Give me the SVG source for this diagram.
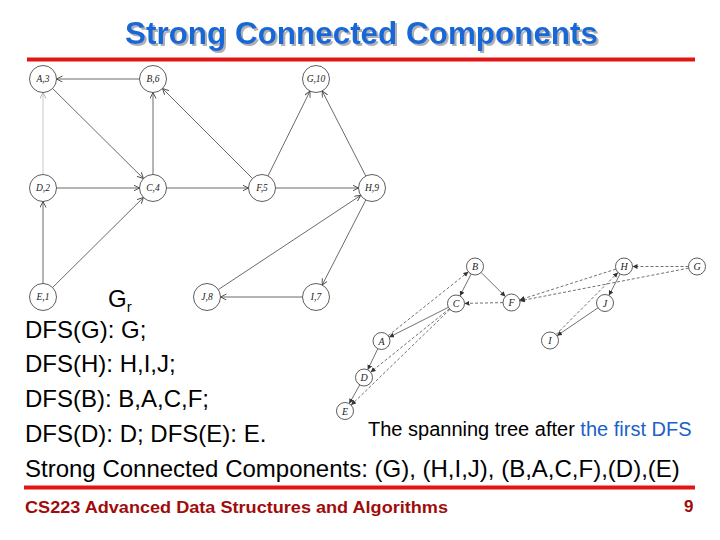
<svg xmlns="http://www.w3.org/2000/svg" width="720" height="540" viewBox="0 0 720 540">
<style>
.bg{fill:#ffffff}
.node circle{fill:#ffffff;stroke:#333;stroke-width:0.8}
.nl{font-family:"Liberation Serif",serif;font-style:italic;font-size:9.5px;fill:#222;text-anchor:middle}
.nr{font-family:"Liberation Serif",serif;font-style:italic;font-size:10px;fill:#222;text-anchor:middle}
.e{stroke:#444;stroke-width:0.8;fill:none;marker-end:url(#ah)}
.eg{stroke:#c8c8c8;stroke-width:1;fill:none;marker-end:url(#ahg)}
.s{stroke:#333;stroke-width:0.7;fill:none;marker-end:url(#ah2)}
.d{stroke:#333;stroke-width:0.7;fill:none;stroke-dasharray:3 2;marker-end:url(#ah2)}
.t{font-family:"Liberation Sans",Arial,sans-serif;font-size:24px;fill:#000}
.title{font-family:"Liberation Sans",Arial,sans-serif;font-weight:bold;font-size:31px}
.foot{font-family:"Liberation Sans",Arial,sans-serif;font-weight:bold;font-size:17px;fill:#a00c0c}
</style>
<defs>
<filter id="sh" x="-5%" y="-20%" width="110%" height="150%">
<feDropShadow dx="2" dy="2" stdDeviation="0.4" flood-color="#b0b0b0" flood-opacity="1"/>
</filter>
<marker id="ah" markerWidth="7" markerHeight="7" refX="6" refY="3" orient="auto" markerUnits="userSpaceOnUse">
<path d="M0,0 L6,3 L0,6" fill="none" stroke="#444" stroke-width="0.9"/>
</marker>
<marker id="ahg" markerWidth="7" markerHeight="7" refX="6" refY="3" orient="auto" markerUnits="userSpaceOnUse">
<path d="M0,0 L6,3 L0,6" fill="none" stroke="#aaa" stroke-width="0.9"/>
</marker>
<marker id="ah2" markerWidth="6" markerHeight="6" refX="5" refY="2.5" orient="auto" markerUnits="userSpaceOnUse">
<path d="M0,0 L5,2.5 L0,5 Z" fill="#333"/>
</marker>
</defs>
<rect class="bg" x="0" y="0" width="720" height="540"/>

<text class="title" x="125" y="44" fill="#1768d6" filter="url(#sh)" textLength="473" lengthAdjust="spacingAndGlyphs">Strong Connected Components</text>
<line x1="27" y1="59.5" x2="695" y2="59.5" stroke="#e31414" stroke-width="4"/>

<g id="connectors-left">
<line class="e" x1="139.5" y1="79" x2="56.5" y2="79"/>
<line class="e" x1="52.6" y1="88.5" x2="143.4" y2="178.5"/>
<line class="eg" x1="43" y1="174.5" x2="43" y2="92.5"/>
<line class="e" x1="56.5" y1="188" x2="139.5" y2="188"/>
<line class="e" x1="43" y1="283.5" x2="43" y2="201.5"/>
<line class="e" x1="52.6" y1="287.5" x2="143.4" y2="197.5"/>
<line class="e" x1="153" y1="174.5" x2="153" y2="92.5"/>
<line class="e" x1="166.5" y1="188" x2="248.5" y2="188"/>
<line class="e" x1="252.5" y1="178.5" x2="162.5" y2="88.5"/>
<line class="e" x1="268" y1="175.9" x2="310" y2="91.1"/>
<line class="e" x1="275.5" y1="188" x2="358.5" y2="188"/>
<line class="e" x1="365.8" y1="176" x2="322.2" y2="91"/>
<line class="e" x1="365.8" y1="200" x2="322.2" y2="285"/>
<line class="e" x1="302.5" y1="297" x2="220.5" y2="297"/>
<line class="e" x1="218.3" y1="289.6" x2="360.7" y2="195.4"/>
</g>

<g id="nA3" class="node"><circle cx="43" cy="79" r="13.5"/><text class="nl" x="43" y="82">A,3</text></g>
<g id="nB6" class="node"><circle cx="153" cy="79" r="13.5"/><text class="nl" x="153" y="82">B,6</text></g>
<g id="nG10" class="node"><circle cx="316" cy="79" r="13.5"/><text class="nl" x="316" y="82">G,10</text></g>
<g id="nD2" class="node"><circle cx="43" cy="188" r="13.5"/><text class="nl" x="43" y="191">D,2</text></g>
<g id="nC4" class="node"><circle cx="153" cy="188" r="13.5"/><text class="nl" x="153" y="191">C,4</text></g>
<g id="nF5" class="node"><circle cx="262" cy="188" r="13.5"/><text class="nl" x="262" y="191">F,5</text></g>
<g id="nH9" class="node"><circle cx="372" cy="188" r="13.5"/><text class="nl" x="372" y="191">H,9</text></g>
<g id="nE1" class="node"><circle cx="43" cy="297" r="13.5"/><text class="nl" x="43" y="300">E,1</text></g>
<g id="nJ8" class="node"><circle cx="207" cy="297" r="13.5"/><text class="nl" x="207" y="300">J,8</text></g>
<g id="nI7" class="node"><circle cx="316" cy="297" r="13.5"/><text class="nl" x="316" y="300">I,7</text></g>

<text class="t" x="108" y="307" font-size="22">G<tspan font-size="15" dy="5">r</tspan></text>

<g id="connectors-right">
<line class="s" x1="471.1" y1="274.1" x2="459.9" y2="295.9"/>
<line class="s" x1="481.1" y1="272.5" x2="505.4" y2="296.5"/>
<line class="d" x1="503" y1="302.6" x2="464.5" y2="303.4"/>
<line class="s" x1="448.4" y1="307.3" x2="389.1" y2="337.2"/>
<line class="d" x1="388.1" y1="335.7" x2="468.4" y2="271.8"/>
<line class="s" x1="377.8" y1="348.7" x2="367.7" y2="369.8"/>
<line class="s" x1="359.8" y1="384.9" x2="349.2" y2="403.6"/>
<line class="d" x1="449.4" y1="308.8" x2="370.6" y2="372.2"/>
<line class="d" x1="449.9" y1="309.4" x2="351.1" y2="405.1"/>
<line class="d" x1="688.5" y1="266.5" x2="632.5" y2="266.5"/>
<line class="d" x1="688.7" y1="268.1" x2="519.8" y2="300.9"/>
<line class="d" x1="615.9" y1="269.1" x2="519.6" y2="299.9"/>
<line class="s" x1="620.1" y1="274" x2="608.9" y2="295.5"/>
<line class="s" x1="598" y1="307.8" x2="557" y2="335.7"/>
<line class="d" x1="556" y1="334.5" x2="618" y2="272.5"/>
</g>

<g id="rB" class="node"><circle cx="475" cy="266.5" r="8.5"/><text class="nr" x="475" y="270">B</text></g>
<g id="rH" class="node"><circle cx="624" cy="266.5" r="8.5"/><text class="nr" x="624" y="270">H</text></g>
<g id="rG" class="node"><circle cx="697" cy="266.5" r="8.5"/><text class="nr" x="697" y="270">G</text></g>
<g id="rC" class="node"><circle cx="456" cy="303.5" r="8.5"/><text class="nr" x="456" y="307">C</text></g>
<g id="rF" class="node"><circle cx="511.5" cy="302.5" r="8.5"/><text class="nr" x="511.5" y="306">F</text></g>
<g id="rJ" class="node"><circle cx="605" cy="303" r="8.5"/><text class="nr" x="605" y="306.5">J</text></g>
<g id="rA" class="node"><circle cx="381.5" cy="341" r="8.5"/><text class="nr" x="381.5" y="344.5">A</text></g>
<g id="rI" class="node"><circle cx="550" cy="340.5" r="8.5"/><text class="nr" x="550" y="344">I</text></g>
<g id="rD" class="node"><circle cx="364" cy="377.5" r="8.5"/><text class="nr" x="364" y="381">D</text></g>
<g id="rE" class="node"><circle cx="345" cy="411" r="8.5"/><text class="nr" x="345" y="414.5">E</text></g>

<text class="t" x="25" y="338">DFS(G): G;</text>
<text class="t" x="25" y="372">DFS(H): H,I,J;</text>
<text class="t" x="25" y="407">DFS(B): B,A,C,F;</text>
<text class="t" x="25" y="442">DFS(D): D; DFS(E): E.</text>
<text class="t" x="25" y="477">Strong Connected Components: (G), (H,I,J), (B,A,C,F),(D),(E)</text>
<text font-family="'Liberation Sans',Arial,sans-serif" font-size="20" x="368" y="436" fill="#000">The spanning tree after <tspan fill="#1a62c8">the first DFS</tspan></text>

<line x1="24" y1="487.5" x2="695" y2="487.5" stroke="#e31414" stroke-width="4"/>
<text class="foot" x="25" y="513" textLength="423" lengthAdjust="spacingAndGlyphs">CS223 Advanced Data Structures and Algorithms</text>
<text class="foot" x="684" y="512" font-weight="normal">9</text>
</svg>
